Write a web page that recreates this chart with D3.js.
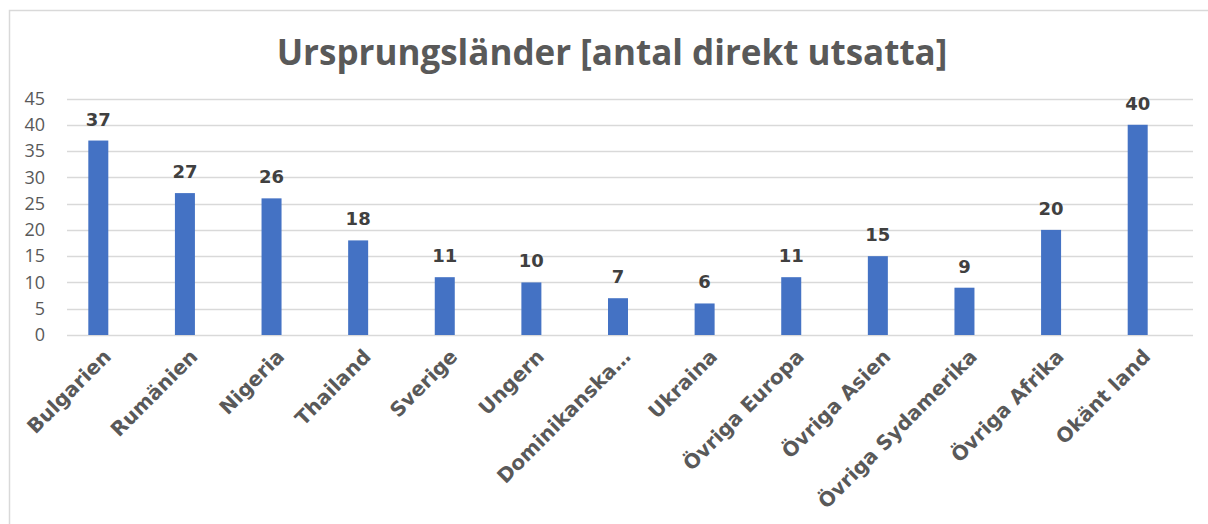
<!DOCTYPE html>
<html>
<head>
<meta charset="utf-8">
<script src="https://cdn.jsdelivr.net/npm/d3@7"></script>
<style>
  body { margin: 0; background: #fff; }
  svg { display: block; }
</style>
</head>
<body>
<svg id="chart" width="1208" height="524"></svg>
<script>
// data
const countries = ["Bulgarien", "Rumänien", "Nigeria", "Thailand", "Sverige", "Ungern",
  "Dominikanska…", "Ukraina", "Övriga Europa", "Övriga Asien", "Övriga Sydamerika",
  "Övriga Afrika", "Okänt land"]
const counts = [37, 27, 26, 18, 11, 10, 7, 6, 11, 15, 9, 20, 40]
const yTicks = [0, 5, 10, 15, 20, 25, 30, 35, 40, 45]
const title = "Ursprungsländer [antal direkt utsatta]"

const svg = d3.select("#chart")

// frame
svg.append("path")
  .attr("d", "M9.5,524 V10.5 H1208")
  .attr("fill", "none")
  .attr("stroke", "#d9d9d9")
  .attr("stroke-width", 1.5)

let x = d3.scaleBand()
  .domain(countries)
  .range([55, 1181])
  .paddingInner(0.77)
  .paddingOuter(0.385)

let y = d3.scaleLinear()
  .domain([0, 45])
  .range([335, 98.5])

// gridlines
svg.append("g")
  .selectAll("line")
  .data(yTicks)
  .join("line")
    .attr("x1", 67)
    .attr("x2", 1193)
    .attr("y1", d => Math.round(y(d)) + 0.5)
    .attr("y2", d => Math.round(y(d)) + 0.5)
    .attr("stroke", "#d9d9d9")
    .attr("stroke-width", 1.5)

// y axis labels
let yAxis = svg.append("g")
  .attr("transform", "translate(45,0)")
  .call(d3.axisLeft(y).tickValues(yTicks).tickSize(0).tickPadding(0))
yAxis.select(".domain").remove()
yAxis.selectAll("text")
  .attr("fill", "#595959")
  .style("font-family", "'Open Sans', 'Noto Sans', sans-serif")
  .style("font-size", "18px")

// bars
svg.append("g")
  .selectAll("rect")
  .data(countries)
  .join("rect")
    .attr("x", d => x(d) + (x.bandwidth() - 20) / 2)
    .attr("width", 20)
    .attr("y", (d, i) => y(counts[i]))
    .attr("height", (d, i) => y(0) - y(counts[i]))
    .attr("fill", "#4472c4")

// value labels
svg.append("g")
  .selectAll("text")
  .data(countries)
  .join("text")
    .attr("x", d => x(d) + x.bandwidth() / 2)
    .attr("y", (d, i) => y(counts[i]) - 15)
    .attr("text-anchor", "middle")
    .attr("fill", "#404040")
    .style("font-family", "'DejaVu Sans', sans-serif")
    .style("font-weight", "700")
    .style("font-size", "18px")
    .text((d, i) => counts[i])

// category labels, rotated
svg.append("g")
  .selectAll("text")
  .data(countries)
  .join("text")
    .attr("transform", d => "translate(" + (x(d) + x.bandwidth() / 2 + 9) + ",353) rotate(-45)")
    .attr("text-anchor", "end")
    .attr("dy", "0.35em")
    .attr("fill", "#595959")
    .style("font-family", "'DejaVu Sans', sans-serif")
    .style("font-weight", "700")
    .style("font-size", "20px")
    .text(d => d)

// title
svg.append("text")
  .attr("x", 612)
  .attr("y", 65)
  .attr("text-anchor", "middle")
  .attr("fill", "#595959")
  .style("font-family", "'Open Sans', sans-serif")
  .style("font-weight", "700")
  .style("font-size", "35px")
  .text(title)
</script>
</body>
</html>
